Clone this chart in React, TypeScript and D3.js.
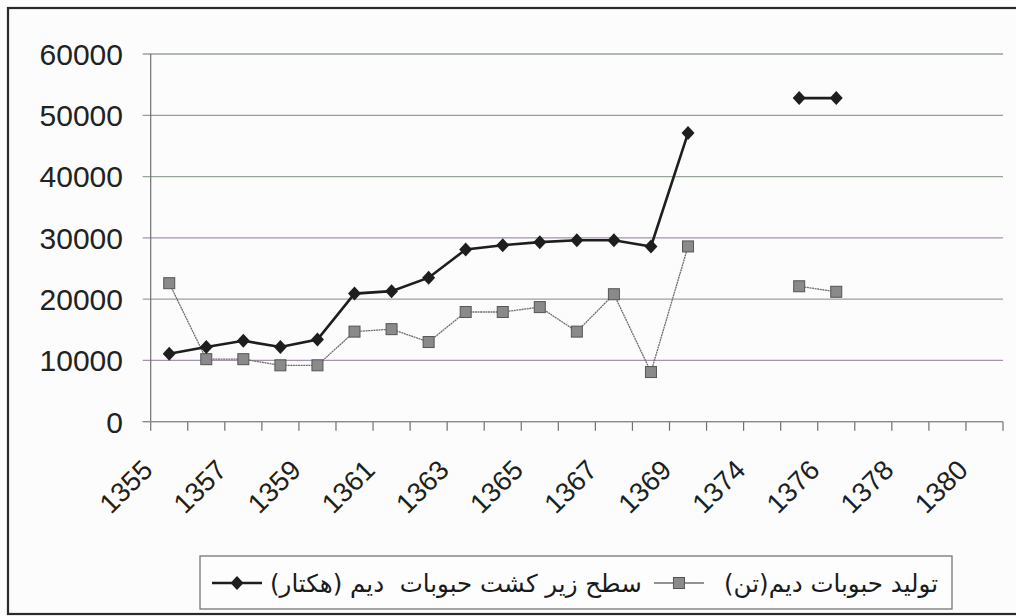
import React, { useEffect, useRef } from 'react';
import * as d3 from 'd3';

// categories (year labels, only every other one is printed on the axis)
const years = [
  '1355', '1356', '1357', '1358', '1359', '1360', '1361', '1362', '1363', '1364',
  '1365', '1366', '1367', '1368', '1369', '1370', '1374', '1375', '1376', '1377',
  '1378', '1379', '1380',
];
const shownYears = ['1355', '1357', '1359', '1361', '1363', '1365', '1367', '1369', '1374', '1376', '1378', '1380'];

// سطح زیر کشت (هکتار)
const areaHa: (number | null)[] = [
  11100, 12200, 13200, 12200, 13400, 20900, 21300, 23500, 28100, 28800,
  29300, 29600, 29600, 28600, 47100, null, null, 52800, 52800, null,
  null, null, null,
];
// تولید (تن)
const productionTon: (number | null)[] = [
  22600, 10200, 10200, 9200, 9200, 14700, 15100, 13000, 17900, 17900,
  18700, 14700, 20800, 8100, 28600, null, null, 22100, 21200, null,
  null, null, null,
];
const yTicks = [0, 10000, 20000, 30000, 40000, 50000, 60000];
const legendLabels = ['سطح زیر کشت حبوبات  دیم (هکتار)', 'تولید حبوبات دیم(تن)'];

const W = 1016;
const H = 616;

const Chart = () => {
  const ref = useRef<SVGSVGElement | null>(null);

  useEffect(() => {
    const svg = d3.select(ref.current);
    svg.selectAll('*').remove();

    svg.append('rect').attr('width', W).attr('height', H).attr('fill', '#fcfcfc');
    // outer frame
    svg.append('rect')
      .attr('x', 8).attr('y', 8).attr('width', W + 10).attr('height', 606)
      .attr('fill', 'none').attr('stroke', '#2a2a2a').attr('stroke-width', 2.2);

    const x = d3.scaleBand().domain(years).range([150.7, 1003]).padding(0);
    const y = d3.scaleLinear().domain([0, 60000]).range([421.7, 54]);
    const cx = (d: string) => (x(d) as number) + x.bandwidth() / 2;

    // grid lines
    svg.append('g').selectAll('line').data(yTicks).enter().append('line')
      .attr('x1', 142.7).attr('x2', 1003)
      .attr('y1', d => y(d)).attr('y2', d => y(d))
      .attr('stroke', (d, i) => (i % 2 ? '#a592ad' : '#97a497')).attr('stroke-width', 1.3);

    // y axis line
    svg.append('line').attr('x1', 150.7).attr('x2', 150.7).attr('y1', y(60000)).attr('y2', y(0))
      .attr('stroke', '#707070').attr('stroke-width', 1.2);

    // y labels
    svg.append('g').selectAll('text').data(yTicks).enter().append('text')
      .attr('x', 123).attr('y', d => y(d)).attr('dy', '0.36em')
      .attr('text-anchor', 'end')
      .attr('font-family', '"Liberation Sans", Arial, sans-serif').attr('font-size', 30)
      .attr('fill', '#222')
      .text(d => d3.format('d')(d));

    // x ticks (at band edges)
    const edges = years.map(d => x(d) as number).concat([1003]);
    svg.append('g').selectAll('line').data(edges).enter().append('line')
      .attr('x1', d => d).attr('x2', d => d).attr('y1', y(0)).attr('y2', y(0) + 9)
      .attr('stroke', '#707070').attr('stroke-width', 1.2);
    svg.append('line').attr('x1', 142.7).attr('x2', 1003).attr('y1', y(0)).attr('y2', y(0))
      .attr('stroke', '#8a8a8a').attr('stroke-width', 1.3);

    // x labels, rotated
    svg.append('g').selectAll('text').data(shownYears).enter().append('text')
      .attr('transform', d => `translate(${cx(d) - 15},${y(0) + 50}) rotate(-45)`)
      .attr('text-anchor', 'end')
      .attr('font-family', '"Liberation Sans", Arial, sans-serif').attr('font-size', 27.5)
      .attr('fill', '#1e1e1e')
      .text(d => d);

    const line = d3.line<number | null>()
      .defined(d => d != null)
      .x((d, i) => cx(years[i]))
      .y(d => y(d as number));

    // production series (gray squares)
    svg.append('path').datum(productionTon).attr('d', line)
      .attr('fill', 'none').attr('stroke', '#6e6e6e').attr('stroke-width', 1.3)
      .attr('stroke-dasharray', '2 0.6');
    const pts2 = productionTon.map((v, i) => ({ v, k: years[i] })).filter(d => d.v != null);
    svg.append('g').selectAll('rect').data(pts2).enter().append('rect')
      .attr('x', d => cx(d.k) - 5.5).attr('y', d => y(d.v as number) - 5.5)
      .attr('width', 11).attr('height', 11)
      .attr('fill', '#8a8a8a').attr('stroke', '#555').attr('stroke-width', 1);

    // area series (black diamonds)
    svg.append('path').datum(areaHa).attr('d', line)
      .attr('fill', 'none').attr('stroke', '#1e1e1e').attr('stroke-width', 2.6);
    const pts1 = areaHa.map((v, i) => ({ v, k: years[i] })).filter(d => d.v != null);
    const diamond = 'M0,-7L6.5,0L0,7L-6.5,0Z';
    svg.append('g').selectAll('path').data(pts1).enter().append('path')
      .attr('transform', d => `translate(${cx(d.k)},${y(d.v as number)})`)
      .attr('d', diamond).attr('fill', '#1e1e1e');

    // legend
    const lg = svg.append('g');
    lg.append('rect').attr('x', 200).attr('y', 556).attr('width', 752).attr('height', 53)
      .attr('fill', '#fdfdfd').attr('stroke', '#6a6a6a').attr('stroke-width', 1.2);
    const ly = 583;
    lg.append('line').attr('x1', 212).attr('x2', 262).attr('y1', ly).attr('y2', ly)
      .attr('stroke', '#1e1e1e').attr('stroke-width', 2.6);
    lg.append('path').attr('transform', `translate(237,${ly})`).attr('d', diamond).attr('fill', '#1e1e1e');

    // fit the two labels between the first marker and the right edge
    const t1 = lg.append('text').attr('y', ly).attr('dy', '0.35em')
      .attr('font-family', '"DejaVu Sans", sans-serif').attr('font-size', 20)
      .attr('fill', '#1a1a1a').style('white-space', 'pre')
      .text(legendLabels[0]);
    const t2 = lg.append('text').attr('y', ly).attr('dy', '0.35em')
      .attr('font-family', '"DejaVu Sans", sans-serif').attr('font-size', 20)
      .attr('fill', '#1a1a1a')
      .text(legendLabels[1]);
    const w1 = (t1.node() as SVGTextElement).getBBox().width;
    const w2 = (t2.node() as SVGTextElement).getBBox().width;
    const start = 270;
    const end = 938;
    const markerGap = 82;
    const k = (end - start - markerGap) / (w1 + w2);
    t1.attr('font-size', 20 * k).attr('x', start);
    const m2 = start + w1 * k + 12;
    lg.append('line').attr('x1', m2).attr('x2', m2 + 50).attr('y1', ly).attr('y2', ly)
      .attr('stroke', '#6e6e6e').attr('stroke-width', 1.3);
    lg.append('rect').attr('x', m2 + 25 - 5.5).attr('y', ly - 5.5).attr('width', 11).attr('height', 11)
      .attr('fill', '#8a8a8a').attr('stroke', '#555');
    t2.attr('font-size', 20 * k).attr('x', end).attr('text-anchor', 'end');

    return () => {
      svg.selectAll('*').remove();
    };
  }, []);

  return <svg ref={ref} width={W} height={H} style={{ display: 'block' }} />;
};

export default function App() {
  return (
    <div style={{ position: 'absolute', left: 0, top: 0 }}>
      <Chart />
    </div>
  );
}
